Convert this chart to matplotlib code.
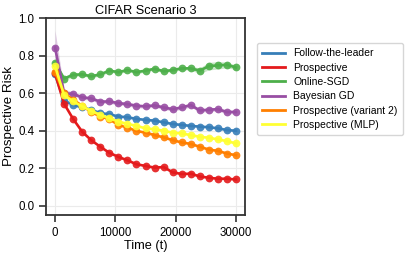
import numpy as np
import matplotlib
matplotlib.use("Agg")
import matplotlib.pyplot as plt

plt.rcParams['font.family'] = ['Liberation Sans', 'DejaVu Sans']

t = np.arange(0, 30001, 1500)

ftl = [0.70, 0.56, 0.538, 0.524, 0.512, 0.494, 0.488, 0.476, 0.472, 0.463, 0.458,
       0.454, 0.445, 0.436, 0.431, 0.426, 0.422, 0.419, 0.413, 0.404, 0.40]
prosp = [0.705, 0.544, 0.463, 0.395, 0.35, 0.315, 0.283, 0.261, 0.243, 0.222, 0.213,
         0.204, 0.207, 0.179, 0.17, 0.172, 0.157, 0.15, 0.145, 0.145, 0.141]
osgd = [0.762, 0.678, 0.698, 0.70, 0.69, 0.70, 0.72, 0.712, 0.723, 0.712, 0.72,
        0.73, 0.717, 0.723, 0.732, 0.732, 0.72, 0.744, 0.748, 0.751, 0.737]
bgd = [0.843, 0.60, 0.596, 0.578, 0.572, 0.555, 0.556, 0.547, 0.542, 0.533, 0.53,
       0.535, 0.524, 0.515, 0.524, 0.537, 0.508, 0.512, 0.515, 0.50, 0.50]
prosp2 = [0.712, 0.60, 0.565, 0.533, 0.50, 0.476, 0.462, 0.431, 0.417, 0.399, 0.39,
          0.377, 0.365, 0.35, 0.338, 0.33, 0.315, 0.30, 0.293, 0.279, 0.27]
mlp = [0.744, 0.59, 0.556, 0.53, 0.506, 0.485, 0.467, 0.449, 0.437, 0.426, 0.413,
       0.408, 0.40, 0.39, 0.386, 0.377, 0.368, 0.363, 0.354, 0.345, 0.333]
# band half-widths (std)
osgd_sd = [0.01, 0.01, 0.01, 0.008, 0.008, 0.008, 0.008, 0.008, 0.008, 0.008, 0.008,
           0.008, 0.008, 0.008, 0.008, 0.01, 0.015, 0.02, 0.02, 0.015, 0.012]
bgd_sd = [0.09, 0.02, 0.01, 0.01, 0.01, 0.01, 0.01, 0.01, 0.01, 0.01, 0.01,
          0.01, 0.01, 0.01, 0.01, 0.01, 0.01, 0.01, 0.01, 0.01, 0.01]

labels = ["Follow-the-leader", "Prospective", "Online-SGD", "Bayesian GD",
          "Prospective (variant 2)", "Prospective (MLP)"]
colors = ["#377eb8", "#e41a1c", "#4daf4a", "#984ea3", "#ff7f00", "#ffff33"]
series = [ftl, prosp, osgd, bgd, prosp2, mlp]
sds = [None, None, osgd_sd, bgd_sd, None, None]

fig = plt.figure(figsize=(4.07, 2.57), dpi=100)
ax = fig.add_axes([46/407, 1 - 215/257, 199/407, 197/257])

for y, c, lab, sd in zip(series, colors, labels, sds):
    y = np.array(y)
    if sd is not None:
        sd = np.array(sd)
        ax.fill_between(t, y - sd, y + sd, color=c, alpha=0.3, lw=0)
    ax.plot(t, y, color=c, lw=1.9, label=lab)
    ax.plot(t, y, color=c, lw=0, marker="o", ms=5.6, alpha=0.9, mew=0)

ax.set_xlim(-1500, 31500)
ax.set_ylim(-0.048, 1.0)
ax.set_xticks([0, 10000, 20000, 30000])
ax.set_yticks([0.0, 0.2, 0.4, 0.6, 0.8, 1.0])
ax.grid(True, color="#ebebeb", lw=0.8)
ax.set_axisbelow(True)
for s in ax.spines.values():
    s.set_color("#333333")
    s.set_linewidth(1.3)
ax.tick_params(axis="both", labelsize=8.3, length=5, width=1.2, color="#333333")
ax.set_xlabel("Time (t)", fontsize=9.2, labelpad=1)
ax.set_ylabel("Prospective Risk", fontsize=9.6, labelpad=2)
ax.set_title("CIFAR Scenario 3", fontsize=9.2, pad=3)

handles = [plt.Line2D([], [], color=c, lw=2) for c in colors]
ax.legend(handles, labels, loc="upper left", bbox_to_anchor=(257/407, 1 - 43/257),
          bbox_transform=fig.transFigure,
          fontsize=7.5, frameon=True, handlelength=2.2, labelspacing=0.42,
          borderpad=0.5, handletextpad=0.8, borderaxespad=0)

fig.savefig("out.png", dpi=100)
